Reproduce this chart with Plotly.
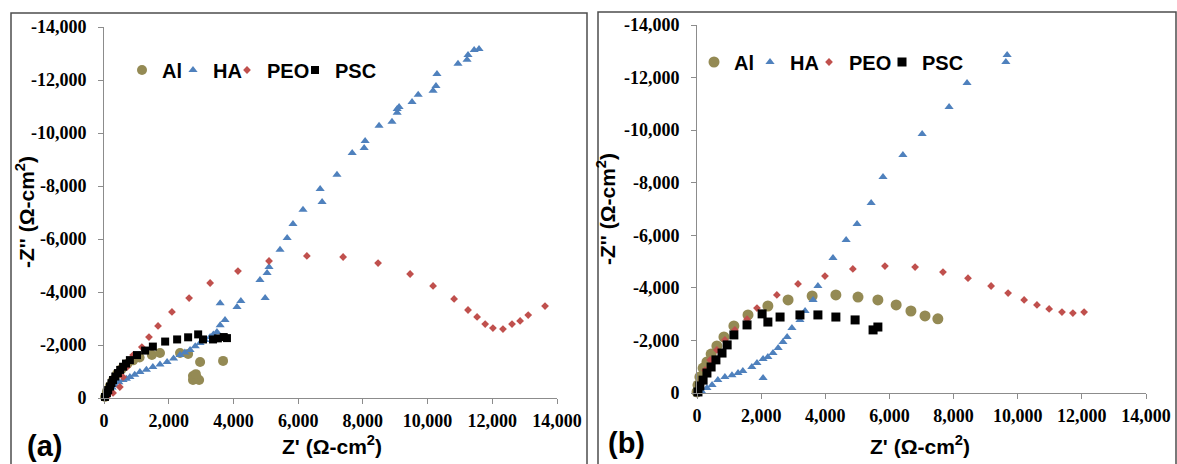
import plotly.graph_objects as go

# ---------------- Data: panel (a) ----------------
a_al_x = [30, 90, 180, 280, 400, 550, 720, 900, 1100, 1480, 1730, 2350, 2600, 2970, 3680, 2870, 2750, 2750, 2940, 2840]
a_al_y = [-40, -230, -450, -680, -900, -1100, -1280, -1420, -1530, -1620, -1700, -1700, -1660, -1360, -1400, -750, -830, -680, -680, -900]

a_ha_x = [11590, 11440, 11250, 11220, 10940, 10290, 10260, 10170, 9710, 9520, 9120, 9060, 9060, 8900, 8500,
          8070, 8040, 7670, 7200, 6680, 6740, 6150, 5840, 5660, 5440, 5100, 5040, 4820, 4980, 4230, 4110,
          3590, 3740, 3590, 3490, 3380, 3280, 3120, 2970, 2820, 2660, 2500, 2350, 2150, 1950, 1730, 1510,
          1310, 1110, 950, 800, 690, 590, 460, 340, 250, 185, 110, 60, 20]
a_ha_y = [-13170, -13130, -12940, -12760, -12610, -12230, -11770, -11590, -11440, -11170, -10980, -10910, -10760, -10420, -10270,
          -9700, -9430, -9250, -8420, -7890, -7400, -7100, -6570, -6040, -5590, -4940, -4720, -4450, -3770, -3660, -3430,
          -3580, -2940, -2750, -2490, -2400, -2300, -2190, -2080, -1950, -1810, -1720, -1620, -1490, -1360, -1260, -1170,
          -1070, -980, -880, -790, -730, -680, -590, -490, -400, -300, -200, -110, -40]

a_peo_x = [13630, 13110, 12860, 12610, 12330, 12020, 11780, 11530, 11250, 10820, 10170, 9460, 8470, 7390, 6270,
           5100, 4140, 3280, 2630, 2100, 1670, 1390, 1170, 900, 710, 590, 490, 280, 90]
a_peo_y = [-3470, -3130, -2910, -2790, -2600, -2640, -2790, -3060, -3320, -3740, -4230, -4680, -5090, -5320, -5360,
           -5170, -4790, -4340, -3770, -3250, -2720, -2300, -1920, -1620, -1170, -790, -415, -190, -40]

a_psc_x = [3800, 3700, 3520, 3370, 3060, 2910, 2600, 2260, 1890, 1510, 1270, 1020, 800, 680, 590, 500, 430, 350, 280, 230, 185, 130, 90, 30]
a_psc_y = [-2260, -2300, -2250, -2210, -2210, -2400, -2290, -2210, -2130, -1940, -1790, -1620, -1430, -1300, -1180, -1060, -940, -810, -680, -560, -430, -300, -190, -40]

# ---------------- Data: panel (b) ----------------
b_al_x = [7510, 7110, 6670, 6210, 5640, 5020, 4330, 3590, 2840, 2210, 1590, 1150, 840, 620, 440, 310, 190, 90, 30, 0]
b_al_y = [-2820, -2930, -3120, -3350, -3540, -3650, -3730, -3690, -3540, -3310, -2970, -2550, -2130, -1790, -1480, -1180, -950, -610, -300, -40]

b_ha_x = [9670, 9630, 8420, 7860, 7020, 6420, 5800, 5430, 4990, 4650, 4240, 3770, 3620, 3370, 3210, 2960, 2810,
          2680, 2530, 2370, 2210, 2060, 1870, 1710, 1430, 1280, 1090, 870, 650, 470, 310, 160, 2060]
b_ha_y = [-12860, -12590, -11790, -10880, -9850, -9050, -8220, -7230, -6430, -5820, -5140, -4070, -3540, -3120, -2780, -2470, -2130,
          -1940, -1710, -1520, -1370, -1290, -1140, -990, -840, -760, -680, -610, -490, -300, -190, -40, -570]

b_peo_x = [12070, 11720, 11380, 10980, 10600, 10200, 9700, 9170, 8450, 7670, 6800, 5860, 4860, 3990, 3150,
           2490, 1870, 1560, 1180, 870, 620, 410, 250, 160, 30]
b_peo_y = [-3080, -3040, -3080, -3200, -3350, -3540, -3800, -4070, -4370, -4600, -4790, -4830, -4720, -4450, -4150,
           -3730, -3230, -2810, -2400, -2020, -1640, -1260, -870, -490, -110]

b_psc_x = [5640, 5490, 4930, 4330, 3770, 3210, 2590, 2210, 2030, 1560, 1150, 940, 780, 590, 440, 310, 190, 90, 30]
b_psc_y = [-2510, -2400, -2780, -2890, -2970, -2970, -2890, -2700, -3010, -2590, -2210, -1830, -1520, -1260, -990, -760, -490, -270, -40]

# ---------------- Axis ticks ----------------
x_tick_vals = [0, 2000, 4000, 6000, 8000, 10000, 12000, 14000]
x_tick_text = ["0", "2,000", "4,000", "6,000", "8,000", "10,000", "12,000", "14,000"]
y_tick_vals = [0, -2000, -4000, -6000, -8000, -10000, -12000, -14000]
y_tick_text = ["0", "-2,000", "-4,000", "-6,000", "-8,000", "-10,000", "-12,000", "-14,000"]

series_names = ["Al", "HA", "PEO", "PSC"]
colors = ["#948A54", "#4F81BD", "#C0504D", "#000000"]
symbols = ["circle", "triangle-up", "diamond", "square"]
sizes = [10, 8, 6, 8]

W, H = 1177, 464
fig = go.Figure()

panels = [
    ("x", "y", "legend", [(a_al_x, a_al_y), (a_ha_x, a_ha_y), (a_peo_x, a_peo_y), (a_psc_x, a_psc_y)], [6, 9, 23, None]),
    ("x2", "y2", "legend2", [(b_al_x, b_al_y), (b_ha_x, b_ha_y), (b_peo_x, b_peo_y), (b_psc_x, b_psc_y)], [11, 14, 28, None]),
]
for xa, ya, lg, data, lw in panels:
    for i, (xs, ys) in enumerate(data):
        kw = dict(legendwidth=lw[i]) if lw[i] is not None else {}
        fig.add_trace(go.Scatter(
            x=xs, y=ys, mode="markers", name=series_names[i], xaxis=xa, yaxis=ya, legend=lg,
            cliponaxis=False,
            marker=dict(symbol=symbols[i], color=colors[i], size=sizes[i] + (1 if xa == "x2" and i in (0, 3) else 0),
                        line=dict(width=0)),
            **kw))

axis_common = dict(showgrid=False, zeroline=False, showline=True, linecolor="#8C8C8C", linewidth=1,
                   ticks="outside", ticklen=5, tickcolor="#8C8C8C", tickmode="array", automargin=False,
                   tickfont=dict(family="Liberation Serif", size=18, color="#000000", weight="bold"))

def px_x(p):
    return p / W

def px_y(p):
    return (H - p) / H

legend_common = dict(orientation="h", xanchor="left", yanchor="middle",
                     font=dict(family="Liberation Sans", size=20, color="#000000", weight="bold"),
                     bgcolor="rgba(0,0,0,0)", itemwidth=30, tracegroupgap=0)

fig.update_layout(
    width=W, height=H, autosize=False,
    margin=dict(l=0, r=0, t=0, b=0, pad=0, autoexpand=False),
    paper_bgcolor="white", plot_bgcolor="rgba(0,0,0,0)",
    xaxis=dict(domain=[px_x(104), px_x(557)], range=[0, 14000], anchor="y", ticklabelstandoff=1,
               tickvals=x_tick_vals, ticktext=x_tick_text, **axis_common),
    yaxis=dict(domain=[px_y(398), px_y(27)], range=[0, -14000], anchor="x", ticklabelstandoff=8,
               tickvals=y_tick_vals, ticktext=y_tick_text, **axis_common),
    xaxis2=dict(domain=[px_x(697), px_x(1146)], range=[0, 14000], anchor="y2", ticklabelstandoff=1,
                tickvals=x_tick_vals, ticktext=x_tick_text, **axis_common),
    yaxis2=dict(domain=[px_y(393), px_y(25)], range=[0, -14000], anchor="x2", ticklabelstandoff=8,
                tickvals=y_tick_vals, ticktext=y_tick_text, **axis_common),
    legend=dict(x=px_x(122), y=px_y(70), **legend_common),
    legend2=dict(x=px_x(694), y=px_y(62), **legend_common),
    showlegend=True,
)

title_font = dict(family="Liberation Sans", size=21, color="#000000", weight="bold")
ann = [
    dict(text="Z' (Ω-cm<sup>2</sup>)", x=px_x(332), y=px_y(445)),
    dict(text="Z' (Ω-cm<sup>2</sup>)", x=px_x(920), y=px_y(445)),
    dict(text="-Z'' (Ω-cm<sup>2</sup>)", x=px_x(25), y=px_y(212), textangle=-90),
    dict(text="-Z'' (Ω-cm<sup>2</sup>)", x=px_x(606), y=px_y(209), textangle=-90),
]
for a in ann:
    fig.add_annotation(xref="paper", yref="paper", showarrow=False, xanchor="center", yanchor="middle",
                       font=title_font, **a)
fig.add_annotation(text="(a)", xref="paper", yref="paper", x=px_x(44), y=px_y(446), showarrow=False,
                   xanchor="center", yanchor="middle",
                   font=dict(family="Liberation Sans", size=29, color="#000000", weight="bold"))
fig.add_annotation(text="(b)", xref="paper", yref="paper", x=px_x(626), y=px_y(443), showarrow=False,
                   xanchor="center", yanchor="middle",
                   font=dict(family="Liberation Sans", size=29, color="#000000", weight="bold"))

# panel frames
fig.add_shape(type="rect", xref="paper", yref="paper", x0=px_x(11), x1=px_x(587), y0=px_y(480), y1=px_y(13),
              line=dict(color="#4D4D4D", width=1.5), fillcolor="rgba(0,0,0,0)", layer="below")
fig.add_shape(type="rect", xref="paper", yref="paper", x0=px_x(598), x1=px_x(1176), y0=px_y(480), y1=px_y(12),
              line=dict(color="#4D4D4D", width=1.5), fillcolor="rgba(0,0,0,0)", layer="below")

fig.write_html("out.html")
